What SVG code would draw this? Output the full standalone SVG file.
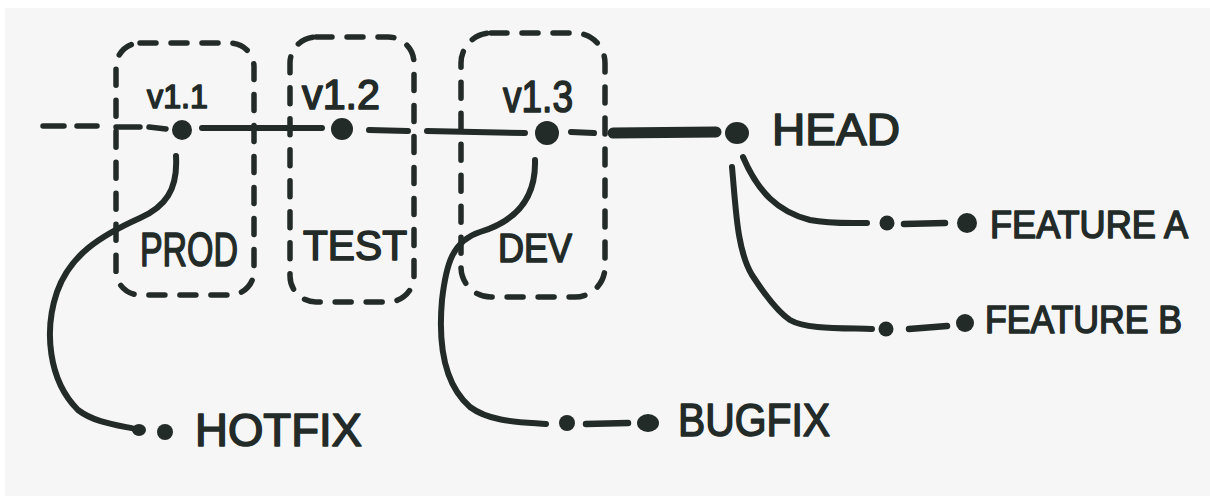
<svg xmlns="http://www.w3.org/2000/svg" width="1210" height="496" viewBox="0 0 1210 496">
<style>
.ink{fill:#232b29}
.ln{fill:none;stroke:#232b29;stroke-linecap:round;stroke-linejoin:round}
.box{fill:none;stroke:#232b29;stroke-width:5.5;stroke-linecap:round;stroke-dasharray:16 15}
.t{font-family:"Liberation Sans",Arial,sans-serif;font-weight:normal;fill:#232b29;stroke:#232b29;stroke-width:1.6;stroke-linejoin:round}
</style>
<rect x="0" y="0" width="1210" height="496" fill="#ffffff"/>
<rect x="5" y="8" width="1205" height="488" fill="#f6f6f6"/>

<g id="connectors">
  <path class="ln" stroke-width="5.5" d="M43,126 L64,126 M77,126 L97,126 M116,127 L140,127 M149,127 L166,129"/>
  <path class="ln" stroke-width="6" d="M202,128 L322,128"/>
  <path class="ln" stroke-width="6" d="M369,130 L408,131"/>
  <path class="ln" stroke-width="6" d="M427,131 L525,133"/>
  <path class="ln" stroke-width="6" d="M571,132 L594,133"/>
  <path class="ln" stroke-width="11" d="M613,133 L716,132"/>
  <path class="ln" stroke-width="6" d="M176,156 C178,190 165,207 140,218 C100,236 70,255 57,292 C44,330 48,380 78,410 C95,423 118,425 140,430"/>
  <path class="ln" stroke-width="6" d="M535,160 C536,195 520,220 480,232 C452,241 446,265 442,300 C438,345 445,385 470,407 C490,422 520,422 546,424"/>
  <path class="ln" stroke-width="6.5" d="M586,424 L628,423"/>
  <path class="ln" stroke-width="6" d="M743,157 C758,192 778,212 810,220 C830,224 850,223 867,223"/>
  <path class="ln" stroke-width="6.5" d="M904,224 L945,223"/>
  <path class="ln" stroke-width="6" d="M732,167 C736,210 737,250 752,275 C765,295 778,312 790,320 C805,329 840,328 872,329"/>
  <path class="ln" stroke-width="6.5" d="M909,329 L947,326"/>
</g>

<g id="node-prod">
  <rect class="box" x="116" y="43" width="138" height="252" rx="24"/>
  <text class="t" x="140" y="266" font-size="48" textLength="98" lengthAdjust="spacingAndGlyphs">PROD</text>
</g>
<g id="node-test">
  <rect class="box" x="290" y="37" width="124" height="265" rx="26"/>
  <text class="t" x="303" y="260" font-size="42" textLength="104" lengthAdjust="spacingAndGlyphs">TEST</text>
</g>
<g id="node-dev">
  <rect class="box" x="461" y="33" width="144" height="264" rx="30"/>
  <text class="t" x="498" y="262" font-size="40" textLength="74" lengthAdjust="spacingAndGlyphs">DEV</text>
</g>

<g id="node-v11">
  <circle class="ink" cx="182" cy="130" r="10"/>
  <text class="t" x="147" y="108" font-size="34" textLength="61" lengthAdjust="spacingAndGlyphs">v1.1</text>
</g>
<g id="node-v12">
  <circle class="ink" cx="342" cy="129" r="11"/>
  <text class="t" x="302" y="109" font-size="42" textLength="78" lengthAdjust="spacingAndGlyphs">v1.2</text>
</g>
<g id="node-v13">
  <circle class="ink" cx="547" cy="133" r="12"/>
  <text class="t" x="503" y="112" font-size="44" textLength="70" lengthAdjust="spacingAndGlyphs">v1.3</text>
</g>
<g id="node-head">
  <ellipse class="ink" cx="737" cy="133" rx="12" ry="11"/>
  <text class="t" x="772" y="145" font-size="45" textLength="128" lengthAdjust="spacingAndGlyphs">HEAD</text>
</g>
<g id="node-hotfix">
  <ellipse class="ink" cx="139" cy="430" rx="7" ry="6"/>
  <circle class="ink" cx="165" cy="432" r="8"/>
  <text class="t" x="195" y="446" font-size="46" textLength="167" lengthAdjust="spacingAndGlyphs">HOTFIX</text>
</g>
<g id="node-bugfix">
  <circle class="ink" cx="567" cy="423" r="8"/>
  <ellipse class="ink" cx="648" cy="423" rx="11" ry="9"/>
  <text class="t" x="678" y="436" font-size="46" textLength="152" lengthAdjust="spacingAndGlyphs">BUGFIX</text>
</g>
<g id="node-feature-a">
  <circle class="ink" cx="887" cy="223" r="7.5"/>
  <circle class="ink" cx="967" cy="223" r="10"/>
  <text class="t" x="990" y="238" font-size="38" textLength="198" lengthAdjust="spacingAndGlyphs">FEATURE A</text>
</g>
<g id="node-feature-b">
  <circle class="ink" cx="886" cy="329" r="7.5"/>
  <circle class="ink" cx="965" cy="323" r="9"/>
  <text class="t" x="985" y="333" font-size="38" textLength="197" lengthAdjust="spacingAndGlyphs">FEATURE B</text>
</g>
</svg>
